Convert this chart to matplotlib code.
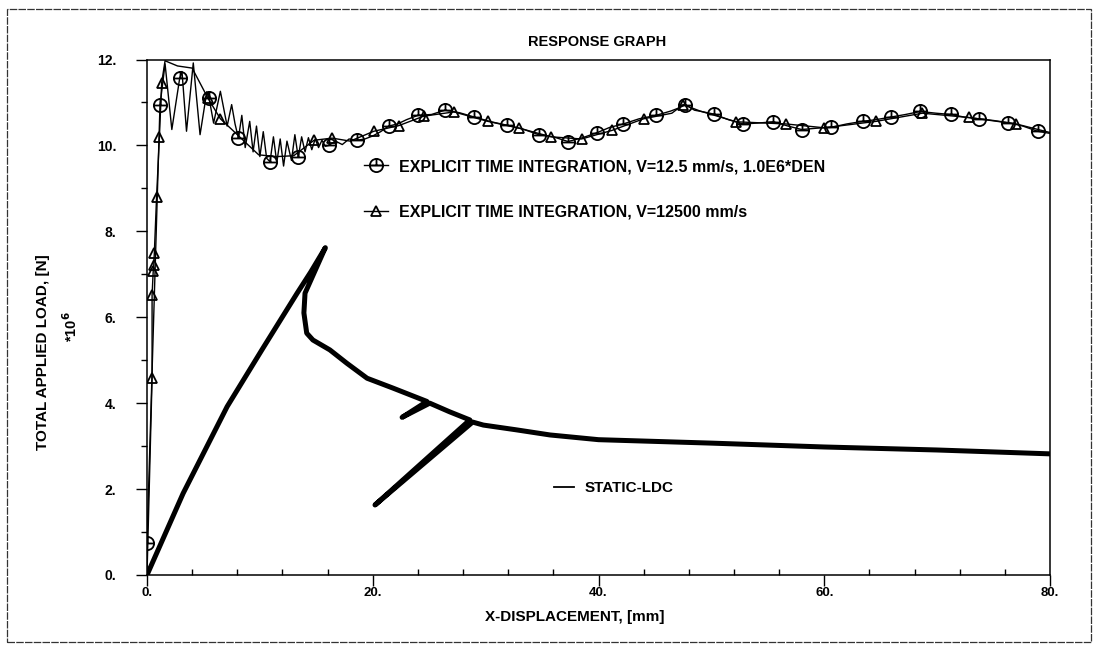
import matplotlib
matplotlib.use("Agg")
import matplotlib.pyplot as plt
from matplotlib.path import Path
from matplotlib.lines import Line2D
from matplotlib.patches import Rectangle
from matplotlib.ticker import MultipleLocator, FixedLocator

plt.rcParams['font.family'] = ['Liberation Sans', 'DejaVu Sans']
plt.rcParams['font.weight'] = 'bold'
plt.rcParams['mathtext.default'] = 'bf'

# ---------------- data ----------------
title = "RESPONSE GRAPH"
xlabel = "X-DISPLACEMENT, [mm]"
ylabel = "TOTAL APPLIED LOAD, [N]"
yscale_label = r"*10$^{6}$"

x_ticks = [0, 20, 40, 60, 80]
x_ticklabels = ["0.", "20.", "40.", "60.", "80."]
y_ticks = [0, 2, 4, 6, 8, 10, 12]
y_ticklabels = ["0.", "2.", "4.", "6.", "8.", "10.", "12."]

label_circ = "EXPLICIT TIME INTEGRATION, V=12.5 mm/s, 1.0E6*DEN"
label_tri = "EXPLICIT TIME INTEGRATION, V=12500 mm/s"
label_static = "STATIC-LDC"

# explicit, V=12.5 mm/s (oscillating curve)
circ_x = [0.0, 1.15, 1.6, 2.2, 2.9, 3.1, 3.5, 4.1, 4.7, 5.3, 5.5, 5.9, 6.5, 7.1,
          7.5, 7.8, 8.1, 8.4, 8.7, 9.1, 9.4, 9.7, 10.0, 10.3, 10.6, 10.9, 11.2,
          11.5, 11.8, 12.1, 12.4, 12.8, 13.1, 13.4, 13.7, 14.0, 14.3, 14.6, 14.9,
          15.2, 15.5, 15.8, 16.1, 16.7, 17.3, 17.9, 18.6, 19.3, 20.0, 20.7, 21.4,
          22.2, 23.0, 24.0, 25.2, 26.4, 27.7, 29.0, 30.5, 31.9, 33.3, 34.7, 36.0,
          37.3, 38.6, 39.9, 41.0, 42.2, 43.6, 45.1, 46.4, 47.2, 47.7, 48.5, 49.3,
          50.2, 51.5, 52.8, 54.1, 55.5, 56.8, 58.0, 59.3, 60.6, 62.0, 63.4, 64.6,
          65.9, 67.2, 68.5, 69.9, 71.2, 72.4, 73.7, 75.0, 76.3, 77.6, 78.9, 80.0]
circ_y = [0.75, 10.93, 11.9, 10.37, 11.57, 11.72, 10.33, 11.92, 10.25, 11.25, 11.1,
          10.52, 11.26, 10.45, 10.95, 10.5, 10.17, 10.7, 9.95, 10.56, 9.85, 10.45,
          9.74, 10.32, 9.7, 9.62, 10.2, 9.6, 10.15, 9.52, 10.1, 9.65, 10.25, 9.72,
          10.2, 9.85, 10.18, 9.9, 10.15, 9.95, 10.12, 9.98, 10.0, 10.1, 10.02,
          10.15, 10.12, 10.15, 10.22, 10.32, 10.45, 10.5, 10.6, 10.7, 10.72, 10.82,
          10.76, 10.66, 10.55, 10.47, 10.38, 10.25, 10.2, 10.09, 10.18, 10.3,
          10.42, 10.5, 10.62, 10.7, 10.8, 10.88, 10.95, 10.82, 10.78, 10.73, 10.6,
          10.5, 10.52, 10.55, 10.45, 10.37, 10.4, 10.42, 10.5, 10.56, 10.6, 10.66,
          10.72, 10.79, 10.75, 10.72, 10.66, 10.62, 10.58, 10.53, 10.45, 10.33,
          10.28]
circ_marker_x = [0.0, 1.15, 2.9, 5.5, 8.1, 10.9, 13.4, 16.1, 18.6, 21.4, 24.0, 26.4,
                 29.0, 31.9, 34.7, 37.3, 39.9, 42.2, 45.1, 47.7, 50.2, 52.8, 55.5,
                 58.0, 60.6, 63.4, 65.9, 68.5, 71.2, 73.7, 76.3, 78.9]

# explicit, V=12500 mm/s
tri_x = [0.0, 0.45, 0.45, 0.55, 0.6, 0.65, 0.85, 1.1, 1.3, 1.6, 2.7, 4.0, 5.4, 6.5,
         7.6, 8.6, 9.9, 11.5, 13.0, 14.8, 16.4, 18.0, 20.1, 22.3, 24.5, 27.2, 30.2,
         33.0, 35.8, 38.5, 41.2, 44.0, 46.5, 47.5, 49.0, 52.2, 56.6, 60.0, 64.6,
         68.7, 72.8, 77.0, 80.0]
tri_y = [0.0, 4.58, 6.52, 7.07, 7.22, 7.5, 8.81, 10.2, 11.46, 11.97, 11.85, 11.8,
         11.1, 10.62, 10.35, 10.1, 9.78, 9.74, 9.76, 10.12, 10.17, 10.1, 10.33,
         10.46, 10.68, 10.78, 10.56, 10.4, 10.2, 10.15, 10.35, 10.62, 10.75, 10.95,
         10.8, 10.55, 10.5, 10.41, 10.56, 10.75, 10.65, 10.5, 10.3]
tri_marker_x = [0.45, 0.55, 0.6, 0.65, 0.85, 1.1, 1.3, 5.4, 6.5, 14.8, 16.4, 20.1,
                22.3, 24.5, 27.2, 30.2, 33.0, 35.8, 38.5, 41.2, 44.0, 47.5, 52.2,
                56.6, 60.0, 64.6, 68.7, 72.8, 77.0]

# static load-displacement curve
static_x = [0, 3.2, 7.1, 10.2, 13.3, 14.5, 15.8, 14.0, 13.9, 14.15, 14.7, 16.2,
            17.7, 19.5, 21.8, 24.8, 22.6, 25.05, 26.8, 28.6, 20.2, 28.85, 29.8,
            32.7, 35.7, 40, 50, 60, 70, 80]
static_y = [0, 1.9, 3.92, 5.25, 6.56, 7.05, 7.62, 6.56, 6.1, 5.63, 5.47, 5.24, 4.93,
            4.58, 4.35, 4.04, 3.67, 4.0, 3.8, 3.61, 1.63, 3.56, 3.49, 3.38, 3.26,
            3.15, 3.07, 2.98, 2.91, 2.82]

# ---------------- figure ----------------
W, H = 1098, 651
fig = plt.figure(figsize=(W / 100, H / 100), dpi=100)
fig.patch.set_facecolor('white')

x0, x1, y0, y1 = 147, 1050, 575, 59.5
ax = fig.add_axes([x0 / W, 1 - y0 / H, (x1 - x0) / W, (y0 - y1) / H])
ax.set_xlim(0, 80)
ax.set_ylim(0, 12)

# circle-with-bar marker
circ_marker = Path.make_compound_path(
    Path.unit_circle(),
    Path([[-1.0, 0.0], [1.0, 0.0]], [Path.MOVETO, Path.LINETO]),
    Path([[0.0, 0.0], [0.0, 1.0]], [Path.MOVETO, Path.LINETO]),
)

circ_idx = [circ_x.index(v) for v in circ_marker_x]
tri_idx = [i for i, v in enumerate(tri_x) if v in tri_marker_x and i > 0]

ax.plot(static_x, static_y, color='black', lw=3.6, solid_capstyle='round',
        solid_joinstyle='round', zorder=3)
ax.plot(tri_x, tri_y, color='black', lw=1.0, marker='^', markevery=tri_idx,
        ms=7.5, mfc='none', mec='black', mew=1.3, zorder=4)
ax.plot(circ_x, circ_y, color='black', lw=1.0, marker=circ_marker, markevery=circ_idx,
        ms=9.5, mfc='none', mec='black', mew=1.3, zorder=5)

# axes styling
for s in ax.spines.values():
    s.set_linewidth(1.1)
ax.xaxis.set_major_locator(FixedLocator(x_ticks))
ax.set_xticklabels(x_ticklabels)
ax.xaxis.set_minor_locator(MultipleLocator(4))
ax.yaxis.set_major_locator(FixedLocator(y_ticks))
ax.set_yticklabels(y_ticklabels)
ax.yaxis.set_minor_locator(MultipleLocator(1))
ax.tick_params(axis='x', which='major', direction='out', length=8, width=1.0,
               labelsize=9.5, pad=1)
ax.tick_params(axis='x', which='minor', direction='in', length=4, width=1.0)
ax.tick_params(axis='y', which='major', direction='out', length=8, width=1.0,
               labelsize=10, pad=14)
ax.tick_params(axis='y', which='minor', direction='out', length=4, width=1.0)

fig.text(597 / W, 1 - 42 / H, title, ha='center', va='center', fontsize=10.5,
         fontweight='bold')
fig.text(575 / W, 1 - 617 / H, xlabel, ha='center', va='center', fontsize=11,
         fontweight='bold')
fig.text(43 / W, 1 - 352 / H, ylabel, ha='center', va='center', rotation=90,
         fontsize=11, fontweight='bold')
fig.text(71 / W, 1 - 327 / H, yscale_label, ha='center', va='center', rotation=90,
         fontsize=10.5, fontweight='bold')

# legends
h1 = Line2D([], [], color='black', lw=1.0, marker=circ_marker, ms=9.5, mfc='none',
            mec='black', mew=1.3)
h2 = Line2D([], [], color='black', lw=1.0, marker='^', ms=7.5, mfc='none',
            mec='black', mew=1.3)
leg1 = ax.legend([h1, h2], [label_circ, label_tri], loc='upper left',
                 bbox_to_anchor=((364 - x0) / (x1 - x0), (y0 - 159) / (y0 - y1)),
                 frameon=False, handlelength=1.5, handletextpad=0.7,
                 labelspacing=1.9, borderpad=0, borderaxespad=0,
                 prop={'weight': 'bold', 'size': 11.5})
ax.add_artist(leg1)
h3 = Line2D([], [], color='black', lw=1.3)
ax.legend([h3], [label_static], loc='upper left',
          bbox_to_anchor=((554 - x0) / (x1 - x0), (y0 - 481) / (y0 - y1)),
          frameon=False, handlelength=1.3, handletextpad=0.7, borderpad=0,
          borderaxespad=0, prop={'weight': 'bold', 'size': 11})

# outer frame
fig.add_artist(Rectangle((7 / W, 1 - 642 / H), (1091 - 7) / W, (642 - 9) / H,
                         transform=fig.transFigure, fill=False, lw=0.9,
                         ec='#333333', ls=(0, (6, 1))))

fig.savefig("out.png", dpi=100, facecolor='white')
